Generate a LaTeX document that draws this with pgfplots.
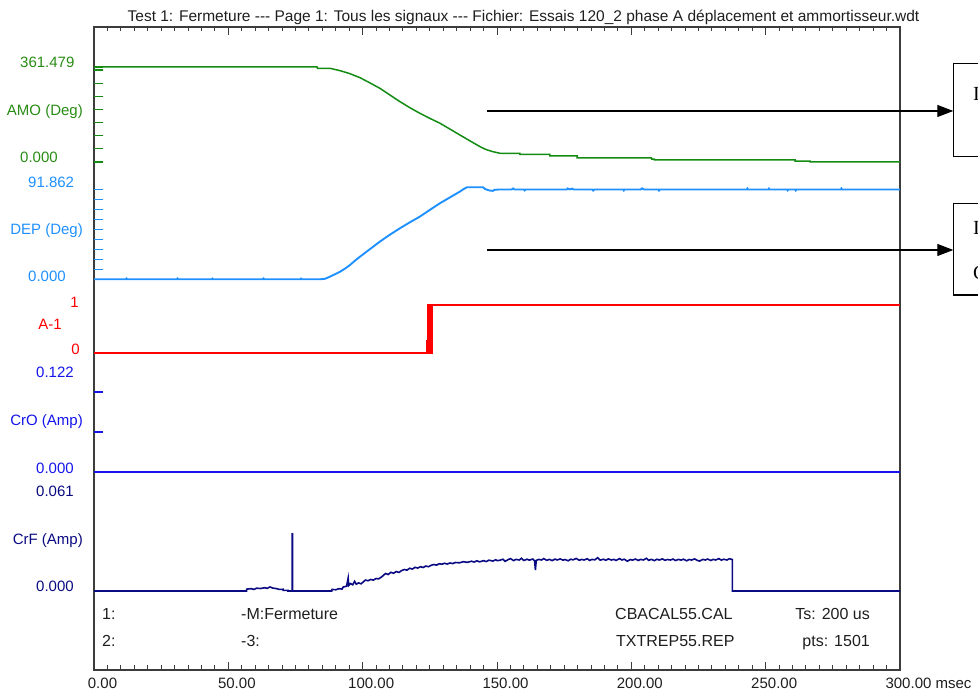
\documentclass[border=0pt]{standalone}
\usepackage{fontspec}
\setmainfont{Liberation Sans}
\newfontfamily\boxfont{Liberation Serif}
\usepackage{pgfplots}
\pgfplotsset{compat=1.18}
\usetikzlibrary{arrows.meta}

\definecolor{amo}{RGB}{20,140,20}
\definecolor{amotxt}{RGB}{40,140,20}
\definecolor{dep}{RGB}{30,144,255}
\definecolor{aone}{RGB}{255,0,0}
\definecolor{cro}{RGB}{20,20,235}
\definecolor{crf}{RGB}{10,10,130}
\definecolor{frame}{RGB}{60,60,60}
\definecolor{txt}{RGB}{30,30,30}

\pgfplotsset{
  chan/.style={anchor=south west, scale only axis, width=806pt,
    xmin=0, xmax=300, axis x line=none, axis y line*=left,
    y axis line style={draw=none}, yticklabels={}, tick align=inside,
    major tick length=9pt, clip=false},
}
\tikzset{lbl/.style={inner sep=0pt, text height=10.7pt, text depth=0pt,
    font=\fontsize{15}{18}\selectfont},
  info/.style={inner sep=0pt, text height=11.4pt, text depth=0pt,
    font=\fontsize{16}{19}\selectfont, text=txt}}

\begin{document}
\begin{tikzpicture}
\useasboundingbox (0,0) rectangle (978pt,695pt);

% frame and time axis
\begin{axis}[
    at={(94pt,25pt)}, anchor=south west, scale only axis,
    width=806pt, height=643pt,
    xmin=0, xmax=300, ymin=0, ymax=1,
    ytick=\empty,
    xtick={0,50,100,150,200,250,300},
    xticklabels={0.00,50.00,100.00,150.00,200.00,250.00,300.00\rlap{ msec}},
    minor x tick num=9,
    xtick pos=both, xticklabel pos=lower,
    tick align=inside,
    major tick length=8pt, minor tick length=4.5pt,
    axis line style={draw=frame, line width=1.4pt},
    every tick/.style={frame, line width=1pt},
    xticklabel style={anchor=center, yshift=-13pt, xshift=8.5pt,
      font=\fontsize{15}{18}\selectfont, text=txt},
]
\end{axis}

% AMO
\begin{axis}[chan, at={(94pt,533pt)}, height=95pt, ymin=0, ymax=361.479,
    ytick={0,50,100,150,200,250,300,350,361.479},
    ytick style={amo, line width=1.2pt}]
\addplot[amo, line width=1.5pt] coordinates {
  (0,361.479) (83.0,361.479) (83.2,356.5) (87.8,356.5) (91.6,347.4)
  (95.0,337.0) (99.0,320.8) (102.5,302.0) (106.4,280.4) (110.0,256.0)
  (113.9,229.4) (117.5,207.0) (121.3,185.3) (125.0,166.0) (128.8,147.3)
  (132.5,125.0) (136.2,102.7) (140.0,80.0) (143.7,58.2) (146.0,47.0)
  (148.5,39.2) (151.1,33.1) (158.5,33.1) (158.5,29.0) (169.7,29.0)
  (169.7,22.8) (179.8,22.8) (179.8,15.2) (207.5,15.2) (207.6,11.0)
  (208.6,11.0) (208.6,7.6) (261.0,7.6) (261.0,3.0) (266.5,3.0)
  (266.5,0.3) (300,0.3)
};
\end{axis}

% DEP
\begin{axis}[chan, at={(94pt,415.7pt)}, height=92pt, ymin=0, ymax=91.862,
    ytick={0,10,20,30,40,50,60,70,80,90},
    ytick style={dep, line width=1.2pt}]
\addplot[dep, line width=1.9pt] coordinates {
  (0,0) (12.0,0) (12.1,0.7) (12.4,0) (31.0,0) (31.1,0.7) (31.4,0)
  (44.0,0) (44.1,0.6) (44.4,0) (63.0,0) (63.1,0.7) (63.4,0)
  (77.0,0) (77.1,0.6) (77.4,0) (84.1,0) (86.0,0.5) (87.8,2.6)
  (89.5,4.8) (91.6,7.6) (93.5,10.8) (95.3,14.3) (97.0,18.3) (99.0,22.6)
  (102.7,30.1) (106.4,37.6) (110.0,44.3) (113.9,51.0) (117.5,56.8)
  (121.3,62.6) (125.0,69.3) (128.8,76.0) (132.5,81.8) (136.2,87.6)
  (137.5,90.0) (138.8,91.862) (144.8,91.862) (145.5,90.3) (146.5,89.2)
  (147.4,88.6) (148.5,88.3) (149.0,89.3) (151.1,89.7) (155.5,89.7)
  (156.0,90.7) (156.5,89.7) (160.0,89.7) (160.3,88.8) (160.6,89.7)
  (176.0,89.7) (176.3,90.7) (177.0,89.7) (178.0,90.5) (178.5,89.7)
  (185.5,89.7) (185.8,88.6) (186.3,89.7) (197.0,89.7) (197.2,88.8)
  (197.4,89.7) (203.5,89.7) (204.0,90.8) (204.8,89.7) (210.0,89.7)
  (210.3,88.6) (210.6,89.7) (243.0,89.7) (243.2,90.6) (243.4,89.7)
  (251.0,89.7) (251.2,90.5) (251.4,89.7) (258.0,89.7) (258.2,88.8)
  (258.5,89.7) (261.0,89.7) (261.2,88.8) (261.4,89.7) (278.0,89.7)
  (278.2,90.6) (278.4,89.7) (300,89.7)
};
\end{axis}

% A-1
\begin{axis}[chan, at={(94pt,342pt)}, height=48pt, ymin=0, ymax=1,
    ytick=\empty]
\addplot[aone, line width=1.5pt] coordinates {
  (0,0) (124.0,0) (124.0,0.25) (124.2,0.25) (124.2,0) (124.4,0)
  (124.4,1) (124.6,1) (124.6,0) (124.8,0) (124.8,1) (125.0,1)
  (125.0,0) (125.2,0) (125.2,1) (125.4,1) (125.4,0) (125.6,0)
  (125.6,1) (125.8,1) (125.8,0) (126.0,0) (126.0,1) (300,1)
};
\end{axis}

% CrO
\begin{axis}[chan, at={(94pt,223pt)}, height=97.6pt, ymin=0, ymax=0.122,
    ytick={0,0.05,0.1},
    ytick style={cro, line width=1.2pt}]
\addplot[cro, line width=1.5pt] coordinates {(0,0) (300,0)};
\end{axis}

% CrF
\begin{axis}[chan, at={(94pt,104pt)}, height=95pt, ymin=0, ymax=0.061,
    ytick=\empty]
\addplot[crf, line width=1.6pt] coordinates {
  (0,0) (56.8,0) (56.8,0.0012) (58.5,0.0015) (59.5,0.0010) (60.5,0.0018)
  (62.0,0.0016) (63.5,0.0021) (64.5,0.0017) (65.5,0.0026) (66.5,0.0019)
  (68.0,0.0015) (69.0,0.0010) (70.4,0.0011) (70.4,0.0004) (72.2,0.0004)
  (72.2,0) (73.8,0) (73.8,0.0366) (73.9,0.0366) (73.9,0) (88.5,0)
  (88.6,0.0010) (90.0,0.0008) (91.2,0.0015) (92.3,0.0012) (92.8,0.0026)
  (94.0,0.0030) (94.6,0.0083) (94.8,0.0035) (95.5,0.0048) (96.3,0.0040)
  (97.0,0.0062) (97.6,0.0044) (98.5,0.0052) (99.4,0.0046) (100.2,0.0058)
  (101.0,0.0070) (102.0,0.0066) (103.0,0.0074) (104.0,0.0070)
  (105.0,0.0080) (106.0,0.0078) (107.0,0.0090) (107.7,0.0100)
  (108.5,0.0112) (109.5,0.0106) (110.5,0.0120) (111.5,0.0114)
  (112.5,0.0125) (113.5,0.0119) (114.5,0.0131) (115.5,0.0138)
  (116.5,0.0134) (117.5,0.0146) (118.5,0.0141) (119.5,0.0152)
  (120.5,0.0147) (121.5,0.0156) (122.5,0.0151) (123.5,0.0160)
  (124.5,0.0156) (125.5,0.0165) (126.5,0.0170) (127.5,0.0166)
  (128.5,0.0175) (129.5,0.0172) (130.5,0.0178) (131.5,0.0173)
  (132.5,0.0180) (133.5,0.0176) (134.5,0.0183) (136.0,0.0181)
  (137.5,0.0188) (139.0,0.0184) (140.5,0.0191) (141.5,0.0186)
  (142.5,0.0194) (143.5,0.0187) (145.0,0.0195) (146.0,0.0189)
  (147.0,0.0198) (148.5,0.0192) (149.5,0.0201) (150.0,0.0195)
  (151.0,0.0197) (152.2,0.0204) (153.0,0.0190) (154.1,0.0201)
  (155.0,0.0208) (156.2,0.0195) (157.0,0.0203) (158.3,0.0199)
  (159.1,0.0210) (160.0,0.0196) (161.2,0.0204) (162.0,0.0198)
  (163.3,0.0205) (164.0,0.0194) (164.3,0.0135) (164.6,0.0196)
  (165.5,0.0203) (166.6,0.0199) (167.4,0.0208) (168.5,0.0197)
  (169.6,0.0203) (170.5,0.0195) (171.6,0.0205) (172.4,0.0199)
  (173.5,0.0206) (174.6,0.0198) (175.3,0.0202) (176.5,0.0194)
  (177.4,0.0204) (178.3,0.0200) (179.5,0.0209) (180.6,0.0197)
  (181.5,0.0203) (182.4,0.0199) (183.6,0.0207) (184.5,0.0196)
  (185.3,0.0203) (186.4,0.0200) (187.5,0.0214) (188.4,0.0198)
  (189.6,0.0204) (190.5,0.0197) (191.4,0.0206) (192.6,0.0199)
  (193.5,0.0203) (194.3,0.0196) (195.6,0.0208) (196.5,0.0199)
  (197.4,0.0204) (198.5,0.0191) (199.6,0.0202) (200.4,0.0198)
  (201.5,0.0205) (202.6,0.0196) (203.4,0.0203) (204.5,0.0199)
  (205.6,0.0210) (206.4,0.0197) (207.5,0.0203) (208.6,0.0195)
  (209.5,0.0204) (210.4,0.0199) (211.6,0.0206) (212.5,0.0197)
  (213.4,0.0202) (214.6,0.0199) (215.5,0.0205) (216.4,0.0196)
  (217.6,0.0203) (218.5,0.0198) (219.4,0.0204) (220.6,0.0194)
  (221.5,0.0202) (222.4,0.0199) (223.6,0.0206) (224.5,0.0197)
  (225.4,0.0192) (226.6,0.0203) (227.5,0.0199) (228.4,0.0205)
  (229.6,0.0196) (230.5,0.0203) (231.4,0.0199) (232.6,0.0208)
  (233.5,0.0198) (234.4,0.0204) (235.6,0.0199) (236.5,0.0207)
  (237.6,0.0202) (237.6,0) (300,0)
};
\end{axis}

% channel labels
\node[lbl, anchor=west, text=amotxt] at (20pt,633pt) {361.479};
\node[lbl, anchor=east, text=amotxt] at (83pt,585pt) {AMO (Deg)};
\node[lbl, anchor=west, text=amotxt] at (20pt,538pt) {0.000};
\node[lbl, anchor=west, text=dep] at (28pt,513pt) {91.862};
\node[lbl, anchor=east, text=dep] at (83pt,466pt) {DEP (Deg)};
\node[lbl, anchor=west, text=dep] at (28pt,419pt) {0.000};
\node[lbl, anchor=east, text=aone] at (79pt,393pt) {1};
\node[lbl, anchor=east, text=aone] at (62pt,371pt) {A-1};
\node[lbl, anchor=east, text=aone] at (80pt,346pt) {0};
\node[lbl, anchor=west, text=cro] at (36pt,323pt) {0.122};
\node[lbl, anchor=east, text=cro] at (83pt,275pt) {CrO (Amp)};
\node[lbl, anchor=west, text=cro] at (36pt,227pt) {0.000};
\node[lbl, anchor=west, text=crf] at (36pt,204pt) {0.061};
\node[lbl, anchor=east, text=crf] at (83pt,156pt) {CrF (Amp)};
\node[lbl, anchor=west, text=crf] at (36pt,109pt) {0.000};

% info lines
\node[info, anchor=west] at (102pt,81pt) {1:};
\node[info, anchor=west] at (241pt,81pt) {-M:Fermeture};
\node[info, anchor=west] at (615pt,81pt) {CBACAL55.CAL};
\node[info, anchor=east] at (870pt,81pt) {Ts: 200 us};
\node[info, anchor=west] at (102pt,54pt) {2:};
\node[info, anchor=west] at (241pt,54pt) {-3:};
\node[info, anchor=west] at (616pt,54pt) {TXTREP55.REP};
\node[info, anchor=east] at (870pt,54pt) {pts: 1501};

% title
\node[inner sep=0pt, text height=11pt, text depth=0pt, text=txt,
  font=\fontsize{15.5}{18}\selectfont] at (523.5pt,679pt)
  {Test 1: Fermeture -{}-{}- Page 1: Tous les signaux -{}-{}- Fichier: Essais 120\_2 phase A déplacement et ammortisseur.wdt};

% annotation boxes and arrows
\draw[line width=1.2pt, -{Triangle[length=16pt,width=12pt]}]
  (487pt,584pt) -- (953.3pt,584pt);
\draw[line width=1.2pt, -{Triangle[length=16pt,width=12pt]}]
  (487pt,445pt) -- (953.3pt,445pt);
\draw[line width=1.2pt] (995pt,631.7pt) -- (953.3pt,631.7pt)
  -- (953.3pt,538.3pt) -- (995pt,538.3pt);
\draw[line width=1.2pt] (995pt,491.7pt) -- (953.3pt,491.7pt)
  -- (953.3pt,400pt) -- (995pt,400pt);
\node[inner sep=0pt, anchor=base west, font=\boxfont\fontsize{20}{24}\selectfont]
  at (973pt,594pt) {I};
\node[inner sep=0pt, anchor=base west, font=\boxfont\fontsize{20}{24}\selectfont]
  at (973pt,460pt) {I};
\node[inner sep=0pt, anchor=base west, font=\boxfont\fontsize{20}{24}\selectfont]
  at (973pt,415pt) {C};
\end{tikzpicture}
\end{document}
